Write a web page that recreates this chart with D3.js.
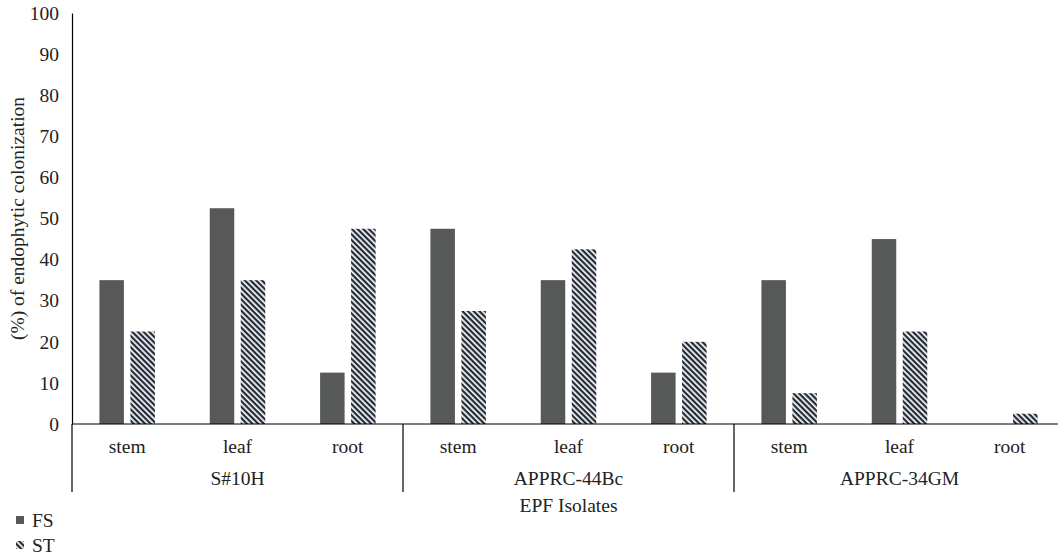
<!DOCTYPE html>
<html><head><meta charset="utf-8">
<script src="https://cdn.jsdelivr.net/npm/d3@7/dist/d3.min.js"></script>
<style>body{margin:0;background:#fff}svg{display:block}</style>
</head><body><svg id="c" width="1058" height="559"></svg>
<script>
const groups = ["S#10H", "APPRC-44Bc", "APPRC-34GM"];
const parts = ["stem", "leaf", "root"];
const seriesNames = ["FS", "ST"];
const fsValues = [35, 52.5, 12.5, 47.5, 35, 12.5, 35, 45, 0];
const stValues = [22.5, 35, 47.5, 27.5, 42.5, 20, 7.5, 22.5, 2.5];
const yTicks = [0,10,20,30,40,50,60,70,80,90,100];

(function(){
const FONT = "'Liberation Serif', 'Times New Roman', Times, 'DejaVu Serif', serif";
const FS = 19.5;
const svg = d3.select("#c");
const mLeft = 72, mRight = 1065, mTop = 13, mBottom = 424;
const cats = [];
groups.forEach((g,gi)=>parts.forEach((p,pi)=>cats.push({g,p,key:gi+"-"+pi})));
const x = d3.scaleBand().domain(cats.map(d=>d.key)).range([mLeft,mRight]);
const y = d3.scaleLinear().domain([0,100]).range([mBottom,mTop]);

const defs = svg.append("defs");
const pat = defs.append("pattern").attr("id","hatch").attr("patternUnits","userSpaceOnUse")
  .attr("width",4).attr("height",4).attr("patternTransform","rotate(45)");
pat.append("rect").attr("width",4).attr("height",4).attr("fill","#fff");
pat.append("rect").attr("width",4).attr("height",2.3).attr("fill","#232b38");

const bw = 24.5, gap = 6.5;
const colors = ["#575958","url(#hatch)"];
[fsValues, stValues].forEach((vals,si)=>{
  svg.append("g").selectAll("rect").data(cats).join("rect")
    .attr("x",(d)=>x(d.key)+x.bandwidth()/2 + (si===0 ? -(bw+gap/2) : gap/2))
    .attr("width",bw)
    .attr("y",(d,i)=>y(vals[i]))
    .attr("height",(d,i)=>y(0)-y(vals[i]))
    .attr("fill",colors[si]);
});

const ya = svg.append("g").attr("transform",`translate(${mLeft},0)`)
  .call(d3.axisLeft(y).tickValues(yTicks).tickSize(0).tickPadding(13));
ya.attr("font-family",null).attr("font-size",null);
ya.select(".domain").attr("stroke","#000").attr("stroke-width",1.2);
ya.selectAll("text").style("font-family",FONT).style("font-size",FS+"px").attr("fill","#222");

svg.append("line").attr("x1",mLeft).attr("x2",1058).attr("y1",y(0)).attr("y2",y(0)).attr("stroke","#000").attr("stroke-width",1.2);

function txt(sel){ return sel.style("font-family",FONT).style("font-size",FS+"px").attr("fill","#222"); }

txt(svg.append("g").selectAll("text").data(cats).join("text")
  .attr("x",d=>x(d.key)+x.bandwidth()/2).attr("y",453).attr("text-anchor","middle")
  .text(d=>d.p));

const gw = x.bandwidth()*3;
[0,1,2].forEach(i=>{
  svg.append("line").attr("x1",mLeft+gw*i).attr("x2",mLeft+gw*i).attr("y1",y(0)).attr("y2",492)
    .attr("stroke","#000").attr("stroke-width",1.2);
});
txt(svg.append("g").selectAll("text").data(groups).join("text")
  .attr("x",(d,i)=>mLeft+gw*i+gw/2).attr("y",485).attr("text-anchor","middle")
  .text(d=>d));

txt(svg.append("text").attr("x",mLeft+gw*1.5).attr("y",512).attr("text-anchor","middle").text("EPF Isolates"));

txt(svg.append("text").attr("transform",`translate(24,${(mTop+mBottom)/2}) rotate(-90)`).attr("text-anchor","middle")
  .text("(%) of endophytic colonization"));

const lg = svg.append("g");
seriesNames.forEach((s,i)=>{
  lg.append("rect").attr("x",16).attr("y",516+i*25).attr("width",8).attr("height",8).attr("fill",colors[i]);
  txt(lg.append("text").attr("x",32).attr("y",527+i*25).text(s));
});
})();
</script></body></html>
